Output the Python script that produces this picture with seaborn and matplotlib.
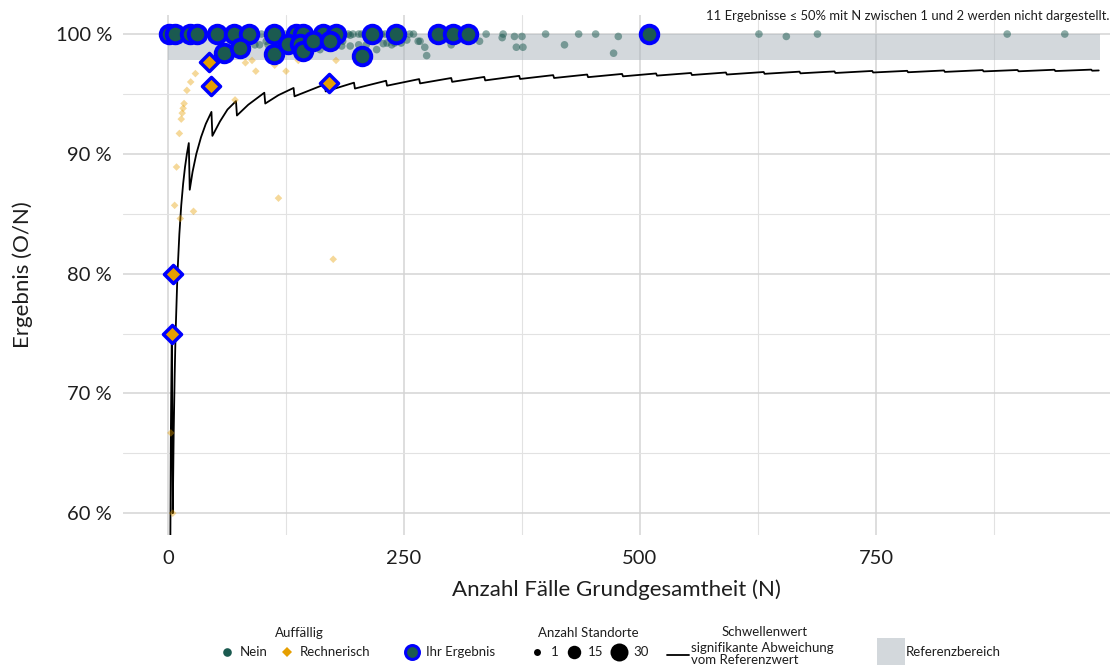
import matplotlib
matplotlib.use("Agg")
import matplotlib.pyplot as plt
from matplotlib.lines import Line2D
from matplotlib.patches import Rectangle
from matplotlib.ticker import MultipleLocator, FuncFormatter
import pandas as pd
import seaborn as sns

# ---------------------------------------------------------------- data
# Standorte ohne Auffälligkeit (N, Ergebnis in %, Anzahl Standorte)
nein_n = [10, 22, 38, 52, 60, 79, 92, 99, 108, 117, 124, 147, 158, 184, 191,
          196, 202, 205, 226, 230, 235, 249, 256, 260, 337, 355, 400, 435,
          453, 626, 688, 889, 950,
          92, 97, 104, 106, 117, 161, 179, 184, 185, 193, 193, 202, 210, 221,
          228, 232, 237, 240, 247, 253, 265, 267, 272, 274, 300, 304, 330,
          354, 367, 369, 375, 376, 420, 472, 477, 655]
nein_pct = [100.0, 100.0, 100.0, 100.0, 100.0, 100.0, 100.0, 100.0, 100.0,
            100.0, 100.0, 100.0, 100.0, 100.0, 100.0, 100.0, 100.0, 100.0,
            100.0, 100.0, 100.0, 100.0, 100.0, 100.0, 100.0, 100.0, 100.0,
            100.0, 100.0, 100.0, 100.0, 100.0, 100.0,
            99.1, 99.1, 99.4, 99.1, 99.4, 98.7, 99.2, 99.0, 99.4, 99.0, 99.9,
            99.1, 99.1, 98.7, 99.2, 99.25, 99.1, 99.25, 99.25, 99.5, 99.4,
            99.4, 98.9, 98.2, 99.1, 99.4, 99.4, 99.7, 99.8, 98.9, 99.8, 98.9,
            99.1, 98.4, 99.8, 99.8]
nein_sites = [2, 2, 2, 2, 2, 2, 2, 2, 2, 2, 2, 2, 2, 2, 2, 2, 2, 2, 2, 2, 2,
              2, 2, 2, 2, 2, 2, 2, 2, 2, 2, 2, 2,
              2, 2, 2, 2, 2, 2, 2, 2, 2, 2, 2, 2, 2, 2, 2, 2, 2, 2, 2, 2, 2,
              2, 2, 2, 2, 2, 2, 2, 2, 2, 2, 2, 2, 2, 2, 2]

# Rechnerisch auffällige Standorte
rech_n = [3, 5, 7, 9, 12, 13, 14, 15, 16, 17, 20, 24, 29, 27, 71, 82, 89, 93,
          113, 117, 125, 138, 175, 178]
rech_pct = [66.7, 60.0, 85.7, 88.9, 91.7, 84.6, 92.9, 93.4, 93.8, 94.2, 95.3,
            96.0, 96.7, 85.2, 94.5, 97.6, 97.8, 96.9, 97.4, 86.3, 96.9, 97.8,
            81.2, 97.8]
rech_sites = [2, 2, 2, 2, 2, 2, 2, 2, 2, 2, 2, 2, 2, 2, 2, 2, 2, 2, 2, 2, 2,
              2, 2, 2]

# Eigene Ergebnisse
ihr_n = [1, 7, 23, 31, 52, 70, 86, 112, 136, 143, 164, 178, 216, 242, 286,
         302, 318, 510, 59, 76, 112, 127, 140, 143, 154, 172, 205,
         4, 5, 43, 46, 171]
ihr_pct = [100.0, 100.0, 100.0, 100.0, 100.0, 100.0, 100.0, 100.0, 100.0,
           100.0, 100.0, 100.0, 100.0, 100.0, 100.0, 100.0, 100.0, 100.0,
           98.4, 98.8, 98.3, 99.2, 99.2, 98.6, 99.4, 99.4, 98.2,
           75.0, 80.0, 97.7, 95.7, 95.9]
ihr_status = ["Nein"] * 27 + ["Rechnerisch"] * 5

# Schwellenwert der signifikanten Abweichung vom Referenzwert
thr_n = [2, 3, 4, 5, 6, 7, 8, 10, 12, 14, 16, 18, 20, 22,
         23, 26, 30, 35, 40, 46,
         47, 55, 63, 72,
         73, 85, 102,
         103, 117, 133,
         134, 150, 166,
         167, 197, 198, 231, 232, 266, 267, 300, 301, 335, 336, 372,
         373, 408, 409, 444, 445, 481, 482, 517, 518, 554, 555, 591,
         592, 631, 632, 669, 670, 706, 707, 746, 747, 783, 784, 822,
         823, 863, 864, 900, 901, 939, 940, 978, 979, 986]
thr_pct = [50.0, 66.7, 75.0, 60.0, 66.7, 71.4, 75.0, 80.0, 83.3, 85.7, 87.5,
           88.9, 90.0, 90.9,
           87.0, 88.5, 90.0, 91.4, 92.5, 93.5,
           91.5, 92.7, 93.7, 94.4,
           93.2, 94.1, 95.1,
           94.2, 94.9, 95.5,
           94.8, 95.3, 95.8,
           95.21, 95.94, 95.45, 96.10, 95.69, 96.24, 95.88, 96.33, 96.01,
           96.42, 96.13, 96.51,
           96.25, 96.57, 96.33, 96.62, 96.40, 96.67, 96.47, 96.71, 96.53,
           96.75, 96.58, 96.79,
           96.62, 96.83, 96.68, 96.86, 96.72, 96.88, 96.75, 96.92, 96.79,
           96.93, 96.81, 96.96,
           96.84, 96.99, 96.88, 97.00, 96.89, 97.02, 96.91, 97.03, 96.94,
           96.96]

# Referenzbereich
ref_lo, ref_hi = 97.83, 100.0
ref_n_max = 987

note = "11 Ergebnisse \u2264 50% mit N zwischen 1 und 2 werden nicht dargestellt."

# ---------------------------------------------------------------- style
sns.set_style("white")
plt.rcParams["font.family"] = ["Lato", "DejaVu Sans"]

TEAL = "#1b5a50"
ORANGE = "#E69F00"
RING = "#0000FF"
BAND = "#d3d8dc"
INK = "#1e1e1e"
SIZES = (25, 168)
SIZE_NORM = (1, 30)

W, H = 1115, 669


def fp(x, y):
    return x / W, 1 - y / H


fig = plt.figure(figsize=(W / 100, H / 100), dpi=100)
ax = fig.add_axes([123 / W, 1 - 535 / H, (1110 - 123) / W, (535 - 15) / H])

nein = pd.DataFrame({"N": nein_n, "pct": nein_pct, "sites": nein_sites})
rech = pd.DataFrame({"N": rech_n, "pct": rech_pct, "sites": rech_sites})
ihr = pd.DataFrame({"N": ihr_n, "pct": ihr_pct, "status": ihr_status})
thr = pd.DataFrame({"N": thr_n, "pct": thr_pct})

# reference band
ax.fill_between([0, ref_n_max], ref_lo, ref_hi, color="#a9b3bb", alpha=0.5,
                linewidth=0, zorder=1)

# threshold curve
sns.lineplot(data=thr, x="N", y="pct", sort=False, estimator=None,
             color="black", linewidth=1.3, ax=ax, zorder=3)

# all other sites
sns.scatterplot(data=nein, x="N", y="pct", size="sites", sizes=SIZES,
                size_norm=SIZE_NORM, color=TEAL, alpha=0.5, linewidth=0,
                marker="o", legend=False, ax=ax, zorder=4)
sns.scatterplot(data=rech, x="N", y="pct", size="sites",
                sizes=(SIZES[0] * 0.5, SIZES[1] * 0.5), size_norm=SIZE_NORM,
                color=ORANGE, alpha=0.4, linewidth=0, marker="D",
                legend=False, ax=ax, zorder=4)

# own results
sns.scatterplot(data=ihr[ihr.status == "Nein"], x="N", y="pct", color=TEAL,
                s=160, marker="o", edgecolor=RING, linewidth=2.8,
                legend=False, ax=ax, zorder=6)
sns.scatterplot(data=ihr[ihr.status == "Rechnerisch"], x="N", y="pct",
                color=ORANGE, s=85, marker="D", edgecolor=RING, linewidth=2.5,
                legend=False, ax=ax, zorder=6)

# axes
ax.set_xlim(-47.7, 997.9)
ax.set_ylim(58.18, 101.59)
ax.xaxis.set_major_locator(MultipleLocator(250))
ax.xaxis.set_minor_locator(MultipleLocator(125))
ax.yaxis.set_major_locator(MultipleLocator(10))
ax.yaxis.set_minor_locator(MultipleLocator(5))
ax.yaxis.set_major_formatter(FuncFormatter(lambda v, _: f"{v:.0f} %"))
ax.grid(which="major", color="#d4d4d4", linewidth=1.1)
ax.grid(which="minor", color="#e2e2e2", linewidth=0.8)
ax.set_axisbelow(True)
for s in ax.spines.values():
    s.set_visible(False)
ax.tick_params(which="both", length=0)
ax.tick_params(axis="y", pad=8, labelsize=14.5, labelcolor=INK)
ax.tick_params(axis="x", pad=11, labelsize=14.5, labelcolor=INK)
ax.set_xlabel("Anzahl Fälle Grundgesamtheit (N)", fontsize=16, labelpad=9,
              color=INK)
ax.set_ylabel("Ergebnis (O/N)", fontsize=16, labelpad=16, color=INK)

fig.text(*fp(1109, 16), note, ha="right", va="center", fontsize=9.4,
         color=INK)

# ---------------------------------------------------------------- legend
LFS = 9.5


def mark(x, y, **kw):
    fig.add_artist(Line2D([x / W], [1 - y / H], transform=fig.transFigure,
                          linestyle="none", **kw))


def txt(x, y, s, ha="left", **kw):
    fig.text(*fp(x, y), s, ha=ha, va="center", fontsize=LFS,
             color=INK, **kw)


txt(299, 633, "Auffällig", ha="center")
mark(227, 652, marker="o", markersize=6.2, color=TEAL, markeredgewidth=0)
txt(240, 652, "Nein")
mark(287, 652, marker="D", markersize=4.6, color=ORANGE, markeredgewidth=0)
txt(300, 652, "Rechnerisch")

mark(412, 652, marker="o", markersize=10.0, markerfacecolor=TEAL,
     markeredgecolor=RING, markeredgewidth=2.2)
txt(426, 652, "Ihr Ergebnis")

txt(588, 633, "Anzahl Standorte", ha="center")
for xm, v, xt in [(537, 1, 551), (574, 15, 588), (619, 30, 633)]:
    area = SIZES[0] + (v - SIZE_NORM[0]) / (SIZE_NORM[1] - SIZE_NORM[0]) * (
        SIZES[1] - SIZES[0])
    mark(xm, 652, marker="o", markersize=area ** 0.5, color="black",
         markeredgewidth=0)
    txt(xt, 652, str(v))

fig.add_artist(Line2D([667 / W, 689 / W], [1 - 655 / H, 1 - 655 / H],
                      transform=fig.transFigure, color="black", linewidth=1.3))
txt(765, 632, "Schwellenwert", ha="center")
txt(691, 654.5, "signifikante Abweichung\nvom Referenzwert", linespacing=1.0)

fig.add_artist(Rectangle((877 / W, 1 - 665 / H), 28 / W, 27 / H,
                         transform=fig.transFigure, color=BAND, linewidth=0))
txt(906, 652, "Referenzbereich")

fig.savefig("out.png", dpi=100)
